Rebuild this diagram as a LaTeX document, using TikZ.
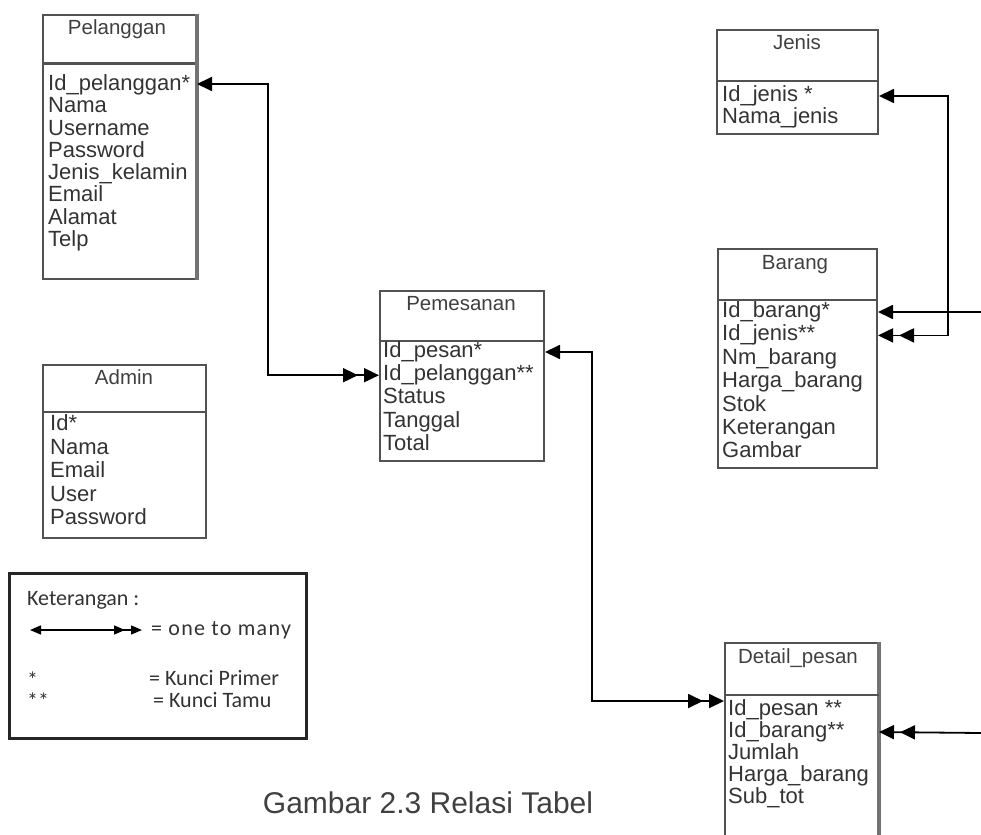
\documentclass[tikz,border=0pt]{standalone}
\usepackage{fontspec}
\setmainfont{Liberation Sans}
\newfontfamily\legfont{Carlito}
\newfontfamily\legwide[LetterSpace=6]{Carlito}
\usetikzlibrary{arrows.meta}
\tikzset{
  one/.tip={Triangle[length=15pt,width=14pt]},
  many/.tip={Triangle[length=15pt,width=14pt,sep=6pt] Triangle[length=15pt,width=14pt]},
  lone/.tip={Triangle[length=11pt,width=9pt]},
  lmany/.tip={Triangle[length=11pt,width=9pt,sep=6pt] Triangle[length=11pt,width=9pt]},
}
\begin{document}
\begin{tikzpicture}[x=1pt,y=-1pt,
  tbl/.style={draw=black!68, line width=2pt, anchor=north west, inner sep=0pt},
  ttl/.style={font=\fontsize{20.5}{21}\selectfont, text=black!75, inner sep=0pt, text height=14pt, text depth=4pt},
  attr/.style={font=\fontsize{22}{22}\selectfont, text=black!80, anchor=west, inner sep=0pt, text height=15.5pt, text depth=4.5pt},
  sepline/.style={draw=black!68, line width=2pt},
  link/.style={line width=1.8pt, draw=black},
  legtxt/.style={font=\legfont\fontsize{22}{23}\selectfont, text=black!80, anchor=west, inner sep=0pt, text height=14pt, text depth=4pt},
]
\useasboundingbox (0,0) rectangle (981,834);
\clip (0,0) rectangle (981,834);

% ---------- Pelanggan ----------
\node[tbl, minimum width=153pt, minimum height=264pt] (pel) at (42,14) {};
\draw[sepline, line width=3pt] (pel.west |- 0,64) -- (pel.east |- 0,64);
\draw[draw=black!55, line width=3.5pt] (pel.north east) -- (pel.south east);
\node[ttl] (pelT) at (117,30) {Pelanggan};
\foreach \t [count=\i] in {Id\_pelanggan*,Nama,Username,Password,Jenis\_kelamin,Email,Alamat,Telp}
  \node[attr] (pel\i) at (48,{85+(\i-1)*22.3}) {\t};

% ---------- Admin ----------
\node[tbl, minimum width=163pt, minimum height=173pt] (adm) at (42,364) {};
\draw[sepline] (adm.west |- 0,412) -- (adm.east |- 0,412);
\node[ttl] (admT) at (124,379) {Admin};
\foreach \t [count=\i] in {Id*,Nama,Email,User,Password}
  \node[attr] (adm\i) at (50,{425+(\i-1)*23.5}) {\t};

% ---------- Pemesanan ----------
\node[tbl, minimum width=164pt, minimum height=170pt] (pem) at (379,290) {};
\draw[sepline] (pem.west |- 0,341) -- (pem.east |- 0,341);
\node[ttl] (pemT) at (461,305) {Pemesanan};
\foreach \t [count=\i] in {Id\_pesan*,Id\_pelanggan**,Status,Tanggal,Total}
  \node[attr] (pem\i) at (383,{352+(\i-1)*23.2}) {\t};

% ---------- Jenis ----------
\node[tbl, minimum width=161pt, minimum height=104pt] (jen) at (716,29) {};
\draw[sepline] (jen.west |- 0,81) -- (jen.east |- 0,81);
\node[ttl] (jenT) at (797,45) {Jenis};
\foreach \t [count=\i] in {Id\_jenis *,Nama\_jenis}
  \node[attr] (jen\i) at (722,{96+(\i-1)*22.5}) {\t};

% ---------- Barang ----------
\node[tbl, minimum width=159pt, minimum height=219pt] (bar) at (717,248) {};
\draw[sepline] (bar.west |- 0,300) -- (bar.east |- 0,300);
\node[ttl] (barT) at (795,264) {Barang};
\foreach \t [count=\i] in {Id\_barang*,Id\_jenis**,Nm\_barang,Harga\_barang,Stok,Keterangan,Gambar}
  \node[attr] (bar\i) at (722,{312+(\i-1)*23.4}) {\t};

% ---------- Detail_pesan ----------
\node[tbl, minimum width=153pt, minimum height=230pt] (det) at (724,642) {};
\draw[draw=black!55, line width=3.5pt] (det.north east) -- (det.south east);
\draw[sepline, line width=1.5pt] (det.west |- 0,695) -- (det.east |- 0,695);
\node[ttl] (detT) at (798,658) {Detail\_pesan};
\foreach \t [count=\i] in {Id\_pesan **,Id\_barang**,Jumlah,Harga\_barang,Sub\_tot}
  \node[attr] (det\i) at (728,{710+(\i-1)*22}) {\t};

% ---------- elbows and free ends ----------
\coordinate (e1) at (268,0);
\coordinate (e2) at (948,0);
\coordinate (e3) at (592,0);
\coordinate (edgeA) at (981,312);
\coordinate (edgeB) at (981,733);
\coordinate (d1) at ([yshift=9pt]det.west |- det1);

% ---------- connectors ----------
\draw[link, {one}-{many}] ([yshift=1pt]pel.east |- pel1) -| (e1 |- pem2) -- (pem.west |- pem2);
\draw[link, {one}-{many}] (jen.east |- jen1) -| (e2 |- bar2) -- (bar.east |- bar2);
\draw[link, -{one}] (edgeA) -- (bar.east |- bar1);
\draw[link, {one}-{many}] (pem.east |- pem1) -| (e3 |- d1) -- (d1);
\draw[link, -{many}] (edgeB) -- (det.east |- det2);

% ---------- legend ----------
\node[draw=black!85, line width=2.5pt, anchor=north west, inner sep=0pt,
      minimum width=297pt, minimum height=165pt] (leg) at (8,572) {};
\node[legtxt] (legT) at (27,600) {Keterangan :};
\coordinate (la) at (30,630);
\coordinate (lb) at (142,630);
\draw[line width=1.4pt, {lone}-{lmany}] (la) -- (lb);
\node[legtxt, font=\legwide\fontsize{22}{23}\selectfont] (legA) at (151,630) {= one to many};
\node[legtxt] (legS1) at (27,682) {*};
\node[legtxt] (legP) at (149,680) {= Kunci Primer};
\node[legtxt] (legS2) at (27,703) {**};
\node[legtxt] (legF) at (153,702) {= Kunci Tamu};

% ---------- caption ----------
\node[font=\fontsize{30}{31}\selectfont, text=black!75, inner sep=0pt] (cap) at (428,803) {Gambar 2.3 Relasi Tabel};
\end{tikzpicture}
\end{document}
